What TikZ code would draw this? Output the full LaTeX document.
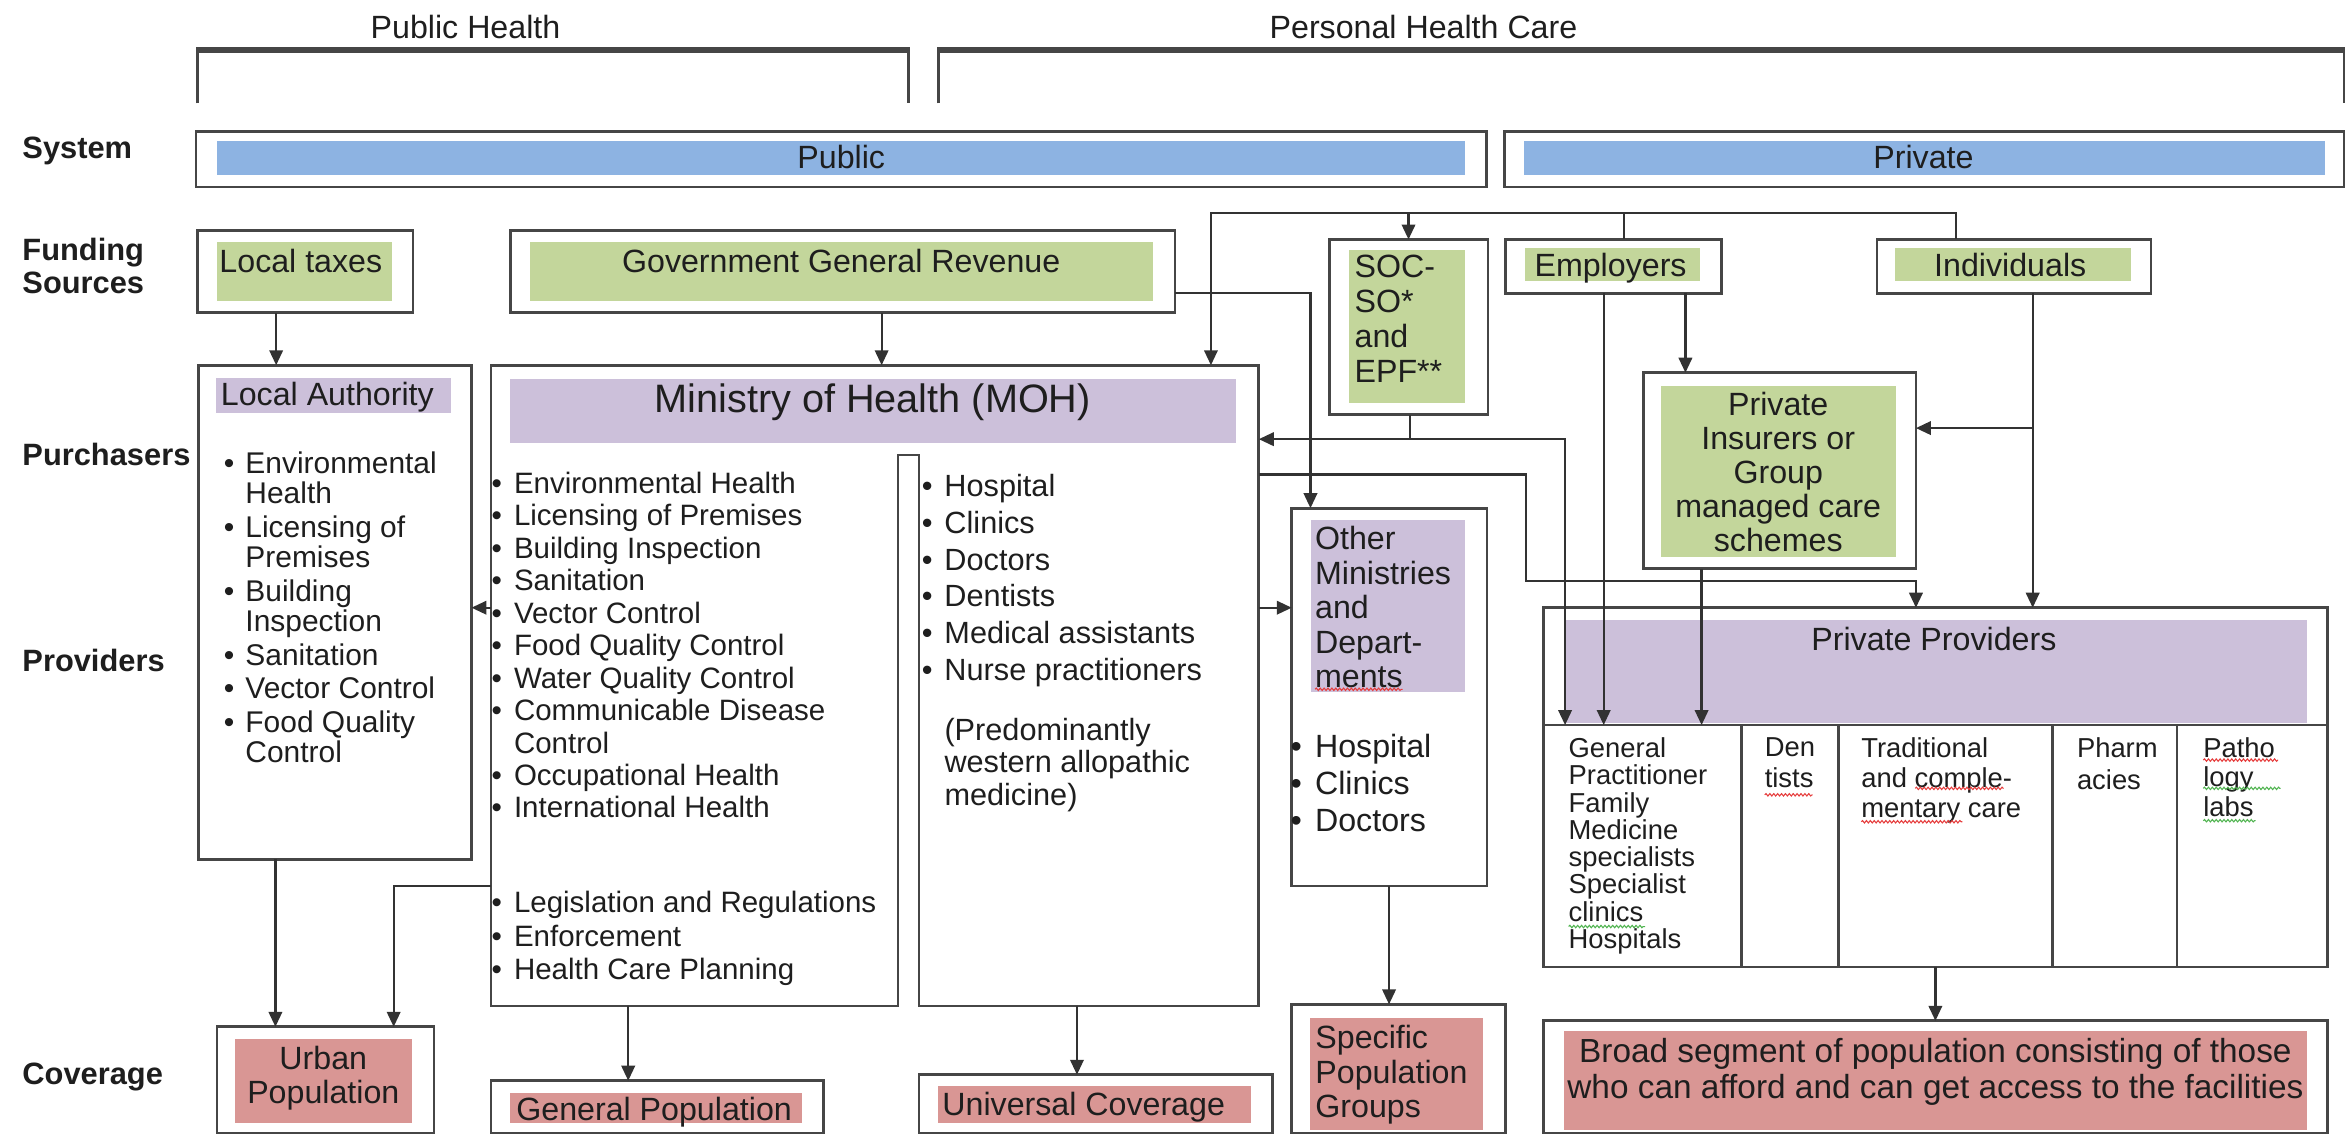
\documentclass[tikz,border=0pt]{standalone}
\usepackage{fontspec}
\setmainfont{Liberation Sans}
\usetikzlibrary{arrows.meta,decorations.pathmorphing}
\definecolor{sysblue}{RGB}{141,179,226}
\definecolor{fgreen}{RGB}{195,214,155}
\definecolor{fpurple}{RGB}{204,192,218}
\definecolor{fred}{RGB}{217,150,148}
\definecolor{framec}{RGB}{70,70,70}
\definecolor{linec}{RGB}{50,50,50}
\definecolor{txtc}{RGB}{30,30,30}
\definecolor{sqred}{RGB}{230,60,60}
\definecolor{sqgreen}{RGB}{80,180,80}
\newcommand\fsz[2]{\fontsize{#1pt}{#2pt}\selectfont}
\newcommand\bul[1]{\makebox[#1pt][l]{\textbullet}}
\newcommand\ind[1]{\hspace*{#1pt}}
\newcommand\mkrect[6]{%
  \pgfmathsetmacro\myrw{#5-#3}%
  \pgfmathsetmacro\myrh{#6-#4}%
  \node[#1, anchor=north west, minimum width=\myrw pt, minimum height=\myrh pt] (#2) at (#3,#4) {};}
\tikzset{
  boxframe/.style={draw=framec, line width=1.8pt, fill=white, inner sep=0pt, outer sep=0pt},
  fillb/.style={fill=#1, draw=none, inner sep=0pt, outer sep=0pt},
  ghost/.style={draw=none, inner sep=0pt, outer sep=0pt},
  lab/.style={inner sep=0pt, outer sep=0pt, text=txtc, font=\fsz{21.5}{23}},
  side/.style={lab, font=\bfseries\fsz{20.6}{22}, anchor=base west},
  conn/.style={draw=linec, line width=1.5pt},
  arr/.style={conn, -{Triangle[length=10pt,width=9pt]}},
  brk/.style={draw=framec, line width=1.8pt},
  divl/.style={draw=framec, line width=1.8pt},
  squig/.style={line width=0.7pt, decorate, decoration={snake, amplitude=0.8pt, segment length=2.6pt}},
}
\begin{document}
\begin{tikzpicture}[x=1pt,y=-1pt]
\useasboundingbox (0,0) rectangle (1568,759);

% ---------- top brackets ----------
\node[lab, anchor=base] (tPH) at (311,26) {Public Health};
\node[lab, anchor=base] (tPHC) at (951,26) {Personal Health Care};
\draw[brk] (132,69) -- (132,33.4);
\draw[brk] (607,33.4) -- (607,69);
\draw[brk, line width=3.6pt] (131.1,33.4) -- (607.9,33.4);
\draw[brk] (627,69) -- (627,33.4);
\draw[brk] (1566,33.4) -- (1566,69);
\draw[brk, line width=3.6pt] (626.1,33.4) -- (1566.9,33.4);

% ---------- side labels ----------
\node[side] (sSys) at (15,105.8) {System};
\node[side] (sFund) at (15,173.8) {Funding};
\node[side] (sSrc) at (15,195.8) {Sources};
\node[side] (sPur) at (15,310.8) {Purchasers};
\node[side] (sPro) at (15,448.8) {Providers};
\node[side] (sCov) at (15,724.8) {Coverage};

% ---------- system ----------
\mkrect{boxframe}{pubsys}{131}{88}{993}{125}
\mkrect{fillb=sysblue}{pubbar}{145}{94}{979}{117}
\node[lab, anchor=base] (tpub) at (562,112.5) {Public};
\mkrect{boxframe}{privsys}{1005}{88}{1566}{125}
\mkrect{fillb=sysblue}{privbar}{1018}{94}{1553}{117}
\node[lab, anchor=base] (tpriv) at (1285,112.5) {Private};

% ---------- funding ----------
\mkrect{boxframe}{ltax}{132}{154}{276}{209}
\mkrect{fillb=fgreen}{ltaxg}{145}{162}{262}{201}
\node[lab, anchor=base] (tltax) at (201,182) {Local taxes};
\mkrect{boxframe}{ggr}{341}{154}{785}{209}
\mkrect{fillb=fgreen}{ggrg}{354}{162}{770}{201}
\node[lab, anchor=base] (tggr) at (562,182) {Government General Revenue};
\mkrect{boxframe}{soc}{888}{160}{994}{277}
\mkrect{fillb=fgreen}{socg}{901}{167}{979}{269}
\node[lab, anchor=north west, align=left, font=\fsz{21.5}{23.2}] (tsoc) at (905,170.7) {SOC-\\SO*\\and\\EPF**};
\mkrect{boxframe}{empl}{1006}{160}{1150}{196}
\mkrect{fillb=fgreen}{emplg}{1019}{166}{1136}{188}
\node[lab, anchor=base] (templ) at (1076,185) {Employers};
\mkrect{boxframe}{indiv}{1254}{160}{1437}{196}
\mkrect{fillb=fgreen}{indivg}{1266}{166}{1424}{188}
\node[lab, anchor=base] (tindiv) at (1343,185) {Individuals};

% ---------- local authority ----------
\mkrect{boxframe}{la}{132.5}{244}{315}{574}
\mkrect{fillb=fpurple}{lap}{144.5}{252.7}{301.6}{276}
\node[lab, anchor=base west] (tla) at (147.6,271.1) {Local Authority};
\node[lab, anchor=north west, align=left, font=\fsz{20}{20.2}] (lalist) at (149.5,301.8)
 {\bul{14.5}Environmental\\\ind{14.5}Health\\[2.3pt]
  \bul{14.5}Licensing of\\\ind{14.5}Premises\\[2.3pt]
  \bul{14.5}Building\\\ind{14.5}Inspection\\[2.3pt]
  \bul{14.5}Sanitation\\[2.3pt]
  \bul{14.5}Vector Control\\[2.3pt]
  \bul{14.5}Food Quality\\\ind{14.5}Control};

% ---------- ministry of health ----------
\mkrect{ghost}{moh}{328}{244}{841}{672}
\mkrect{ghost}{molist}{328}{304}{600}{672}
\mkrect{ghost}{mocare}{614}{304}{841}{672}
\draw[draw=framec, line width=1.8pt, fill=white]
  (moh.north west) -- (moh.north east) -- (moh.south east) -- (mocare.south west)
  -- (mocare.north west) -- (molist.north east) -- (molist.south east)
  -- (moh.south west) -- cycle;
\mkrect{fillb=fpurple}{mohp}{341}{253}{826}{296}
\node[lab, anchor=base, font=\fsz{26.5}{28}] (tmoh) at (583,275.7) {Ministry of Health (MOH)};
\node[lab, anchor=north west, align=left, font=\fsz{19.7}{21.7}] (mohl1) at (328.5,315.2)
 {\bul{14.9}Environmental Health\\
  \bul{14.9}Licensing of Premises\\
  \bul{14.9}Building Inspection\\
  \bul{14.9}Sanitation\\
  \bul{14.9}Vector Control\\
  \bul{14.9}Food Quality Control\\
  \bul{14.9}Water Quality Control\\
  \bul{14.9}Communicable Disease\\
  \ind{14.9}Control\\
  \bul{14.9}Occupational Health\\
  \bul{14.9}International Health};
\node[lab, anchor=north west, align=left, font=\fsz{19.7}{22.5}] (mohl2) at (328.5,595.4)
 {\bul{14.9}Legislation and Regulations\\
  \bul{14.9}Enforcement\\
  \bul{14.9}Health Care Planning};
\node[lab, anchor=north west, align=left, font=\fsz{20.5}{24.5}] (mohr1) at (615.9,317.1)
 {\bul{15.1}Hospital\\
  \bul{15.1}Clinics\\
  \bul{15.1}Doctors\\
  \bul{15.1}Dentists\\
  \bul{15.1}Medical assistants\\
  \bul{15.1}Nurse practitioners};
\node[lab, anchor=north west, align=left, font=\fsz{20.5}{21.7}] (mohr2) at (631,479.8)
 {(Predominantly\\western allopathic\\medicine)};

% ---------- other ministries ----------
\mkrect{boxframe}{othmin}{863}{339.5}{993.5}{592}
\mkrect{fillb=fpurple}{othminp}{876}{347.5}{979}{462}
\node[lab, anchor=north west, align=left, font=\fsz{21.5}{23}] (tom) at (878.6,351.7)
 {Other\\Ministries\\and\\Depart-\\ments};
\node[lab, anchor=north west, align=left, font=\fsz{21.5}{24.5}] (oml) at (862.2,490.7)
 {\bul{16.4}Hospital\\\bul{16.4}Clinics\\\bul{16.4}Doctors};

% ---------- private insurers ----------
\mkrect{boxframe}{pins}{1098}{249}{1280}{380}
\mkrect{fillb=fgreen}{pinsg}{1110}{258}{1267}{372}
\node[lab, anchor=north, align=center, font=\fsz{21.5}{22.7}] (tpins) at (1188,262.3)
 {Private\\Insurers or\\Group\\managed care\\schemes};

% ---------- private providers ----------
\mkrect{boxframe}{ppro}{1031}{406}{1555}{646}
\mkrect{fillb=fpurple}{pprop}{1045}{414}{1541}{483}
\node[lab, anchor=base] (tppro) at (1292,434.3) {Private Providers};
\mkrect{boxframe}{ptab}{1031}{484.4}{1555}{646}
\coordinate (cd1) at (1163.5,0);
\coordinate (cd2) at (1228.4,0);
\coordinate (cd3) at (1371.4,0);
\coordinate (cd4) at (1454.5,0);
\foreach \c in {cd1,cd2,cd3,cd4}{\draw[divl] (ptab.north -| \c) -- (ptab.south -| \c);}
\node[lab, anchor=north west, align=left, font=\fsz{18.3}{18.2}] (cgp) at (1048,492.9)
 {General\\Practitioner\\Family\\Medicine\\specialists\\Specialist\\clinics\\Hospitals};
\node[lab, anchor=north west, align=left, font=\fsz{18.3}{20.5}] (cden) at (1179,492.9) {Den\\tists};
\node[lab, anchor=north west, align=left, font=\fsz{18.3}{20}] (ctrad) at (1243.5,492.9)
 {Traditional\\and comple-\\mentary care};
\node[lab, anchor=north west, align=left, font=\fsz{18.3}{21}] (cpharm) at (1387.6,492.9) {Pharm\\acies};
\node[lab, anchor=north west, align=left, font=\fsz{18.3}{19.5}] (cpath) at (1472,492.9) {Patho\\logy\\labs};

% spell-check squiggles as printed
\draw[squig, sqred] (878.6,460.5) -- (937,460.5);
\draw[squig, sqred] (1179,531) -- (1211,531);
\draw[squig, sqred] (1279.5,526.7) -- (1338.5,526.7);
\draw[squig, sqred] (1243.5,549) -- (1311,549);
\draw[squig, sqred] (1472,507.8) -- (1522,507.8);
\draw[squig, sqgreen] (1472,526.7) -- (1523.6,526.7);
\draw[squig, sqgreen] (1472,548.3) -- (1507,548.3);
\draw[squig, sqgreen] (1048,619) -- (1099,619);

% ---------- coverage ----------
\mkrect{boxframe}{urban}{145}{686}{290}{757}
\mkrect{fillb=fred}{urbanr}{157}{694}{275}{750}
\node[lab, anchor=north, align=center, font=\fsz{21.5}{23}] (turban) at (216,698.7) {Urban\\Population};
\mkrect{boxframe}{genpop}{328}{722}{550}{757}
\mkrect{fillb=fred}{genpopr}{341}{730}{536}{750}
\node[lab, anchor=base] (tgen) at (437,748.7) {General Population};
\mkrect{boxframe}{univ}{614}{718}{850}{757}
\mkrect{fillb=fred}{univr}{626.7}{725.6}{836}{750}
\node[lab, anchor=base] (tuniv) at (724,745.1) {Universal Coverage};
\mkrect{boxframe}{specpop}{863}{671}{1006}{757}
\mkrect{fillb=fred}{specpopr}{875}{680}{991}{755}
\node[lab, anchor=north west, align=left, font=\fsz{21.5}{23}] (tspec) at (878.8,685.2)
 {Specific\\Population\\Groups};
\mkrect{boxframe}{broad}{1031}{682}{1555}{757}
\mkrect{fillb=fred}{broadr}{1045}{689}{1541}{755}
\node[lab, anchor=north, align=center, font=\fsz{22.3}{23.4}] (tbroad) at (1293,694)
 {Broad segment of population consisting of those\\who can afford and can get access to the facilities};

% ---------- connector positions ----------
\coordinate (xLT) at (184.5,0);
\coordinate (xGG) at (589,0);
\coordinate (yGO) at (0,196);
\coordinate (xOM) at (875.5,0);
\coordinate (yTop) at (0,142.5);
\coordinate (xTopL) at (809,0);
\coordinate (xSOCin) at (941,0);
\coordinate (xEmpTop) at (1085,0);
\coordinate (xIndTop) at (1307,0);
\coordinate (xSOCout) at (942,0);
\coordinate (ySOC) at (0,293.4);
\coordinate (xGP1) at (1045.6,0);
\coordinate (yMP) at (0,317);
\coordinate (xMPturn) at (1019.5,0);
\coordinate (yMPturn) at (0,388);
\coordinate (xMPend) at (1280,0);
\coordinate (xEP) at (1126,0);
\coordinate (xGP2) at (1071.4,0);
\coordinate (xInd) at (1358,0);
\coordinate (yIP) at (0,286);
\coordinate (xGP3) at (1136.8,0);
\coordinate (yLA) at (0,406);
\coordinate (xLU) at (184,0);
\coordinate (yMU) at (0,592);
\coordinate (xMU) at (263,0);
\coordinate (xGen) at (419.7,0);
\coordinate (xUniv) at (719.5,0);
\coordinate (xSpec) at (928,0);
\coordinate (xBroad) at (1293,0);

% ---------- connectors ----------
\draw[arr] (ltax.south -| xLT) -- (la.north -| xLT);
\draw[arr] (ggr.south -| xGG) -- (moh.north -| xGG);
\draw[arr] (ggr.east |- yGO) -| (othmin.north -| xOM);
\draw[arr] (indiv.north -| xIndTop) |- (xTopL |- yTop) -- (moh.north -| xTopL);
\draw[conn] (empl.north -| xEmpTop) -- (xEmpTop |- yTop);
\draw[arr] (xSOCin |- yTop) -- (soc.north -| xSOCin);
\draw[arr] (soc.south -| xSOCout) |- (moh.east |- ySOC);
\draw[arr] (xSOCout |- ySOC) -| (ptab.north -| xGP1);
\draw[arr] (moh.east |- yMP) -| (xMPturn |- yMPturn) -| (ppro.north -| xMPend);
\draw[arr] (empl.south -| xEP) -- (pins.north -| xEP);
\draw[arr] (empl.south -| xGP2) -- (ptab.north -| xGP2);
\draw[arr] (indiv.south -| xInd) -- (ppro.north -| xInd);
\draw[arr] (xInd |- yIP) -- (pins.east |- yIP);
\draw[arr] (pins.south -| xGP3) -- (ptab.north -| xGP3);
\draw[arr] (moh.west |- yLA) -- (la.east |- yLA);
\draw[arr] (moh.east |- yLA) -- (othmin.west |- yLA);
\draw[arr] (la.south -| xLU) -- (urban.north -| xLU);
\draw[arr] (moh.west |- yMU) -| (urban.north -| xMU);
\draw[arr] (molist.south -| xGen) -- (genpop.north -| xGen);
\draw[arr] (mocare.south -| xUniv) -- (univ.north -| xUniv);
\draw[arr] (othmin.south -| xSpec) -- (specpop.north -| xSpec);
\draw[arr] (ppro.south -| xBroad) -- (broad.north -| xBroad);
\end{tikzpicture}
\end{document}
